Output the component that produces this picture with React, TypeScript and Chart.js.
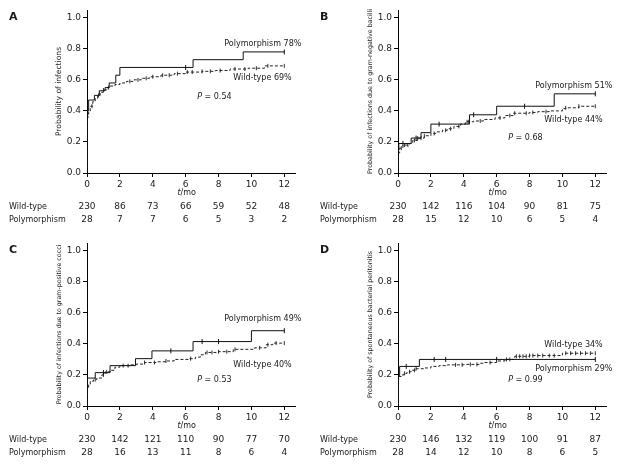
import React, { useEffect, useRef } from "react";
import { Chart, registerables } from "chart.js";
Chart.register(...registerables);

const FONT = "'DejaVu Sans', Verdana, sans-serif";
const INK = "#1a1a1a";

const timeTicks = [0, 2, 4, 6, 8, 10, 12];
const yTicks = [0, 0.2, 0.4, 0.6, 0.8, 1.0];
const rowLabels = ["Wild-type", "Polymorphism"];

// ---- Panel A: infections
const aPolyT = [0, 0, 0.1, 0.45, 0.75, 1.1, 1.35, 1.75, 2.0, 6.45, 9.5, 12];
const aPolyP = [0, 0.40, 0.47, 0.50, 0.53, 0.55, 0.58, 0.63, 0.68, 0.73, 0.78, 0.78];
const aWildT = [0, 0, 0.1, 0.2, 0.35, 0.5, 0.65, 0.8, 1.0, 1.2, 1.4, 1.7, 2.0, 2.4, 2.8, 3.3, 3.8, 4.5, 5.3, 6.0, 7.0, 7.8, 8.7, 9.8, 10.8, 12];
const aWildP = [0, 0.36, 0.40, 0.43, 0.46, 0.48, 0.50, 0.52, 0.535, 0.55, 0.56, 0.57, 0.58, 0.59, 0.60, 0.61, 0.62, 0.63, 0.64, 0.65, 0.655, 0.66, 0.67, 0.675, 0.69, 0.69];
const aPolyCensor = [6.0, 12];
const aWildCensor = [0.3, 0.7, 1.0, 1.3, 2.6, 3.1, 3.6, 4.0, 4.6, 5.0, 5.5, 6.1, 6.4, 7.0, 7.5, 8.1, 9.0, 9.6, 10.3, 11.0, 12];
const aWildRisk = [230, 86, 73, 66, 59, 52, 48];
const aPolyRisk = [28, 7, 7, 6, 5, 3, 2];

// ---- Panel B: gram-negative bacilli
const bPolyT = [0, 0, 0.05, 0.8, 1.4, 2.0, 4.35, 6.0, 9.5, 12];
const bPolyP = [0, 0.15, 0.19, 0.225, 0.26, 0.315, 0.375, 0.43, 0.51, 0.51];
const bWildT = [0, 0, 0.1, 0.3, 0.7, 0.9, 1.2, 1.6, 2.0, 2.3, 2.7, 3.0, 3.4, 3.8, 4.1, 4.6, 5.2, 5.9, 6.5, 7.0, 8.0, 8.5, 9.3, 10.0, 10.2, 11.0, 12];
const bWildP = [0, 0.13, 0.16, 0.18, 0.19, 0.21, 0.225, 0.24, 0.255, 0.265, 0.275, 0.285, 0.30, 0.315, 0.33, 0.335, 0.345, 0.355, 0.37, 0.385, 0.39, 0.395, 0.40, 0.415, 0.42, 0.43, 0.43];
const bPolyCensor = [0.3, 1.1, 2.5, 4.6, 7.7, 12];
const bWildCensor = [0.2, 0.4, 0.6, 1.0, 1.2, 1.4, 1.6, 2.2, 2.9, 3.2, 3.7, 4.2, 4.3, 5.0, 6.2, 6.8, 7.1, 7.8, 8.2, 9.0, 10.2, 11.0, 12];
const bWildRisk = [230, 142, 116, 104, 90, 81, 75];
const bPolyRisk = [28, 15, 12, 10, 6, 5, 4];

// ---- Panel C: gram-positive cocci
const cPolyT = [0, 0, 0.5, 1.4, 2.95, 3.95, 6.45, 10.0, 12];
const cPolyP = [0, 0.18, 0.215, 0.26, 0.305, 0.355, 0.415, 0.485, 0.485];
const cWildT = [0, 0, 0.1, 0.2, 0.4, 0.6, 0.9, 1.1, 1.4, 1.7, 2.0, 2.6, 3.0, 3.5, 4.2, 4.8, 5.3, 6.2, 6.6, 6.9, 7.2, 8.0, 8.9, 10.2, 10.9, 11.3, 12];
const cWildP = [0, 0.11, 0.14, 0.16, 0.17, 0.18, 0.20, 0.22, 0.23, 0.25, 0.26, 0.265, 0.27, 0.28, 0.285, 0.29, 0.30, 0.305, 0.315, 0.33, 0.345, 0.35, 0.365, 0.375, 0.395, 0.405, 0.405];
const cPolyCensor = [1.0, 5.1, 7.0, 8.0, 12];
const cWildCensor = [0.5, 1.0, 1.2, 2.2, 2.5, 3.5, 4.1, 4.8, 6.3, 7.3, 7.6, 8.0, 8.5, 9.0, 10.5, 11.0, 11.5, 12];
const cWildRisk = [230, 142, 121, 110, 90, 77, 70];
const cPolyRisk = [28, 16, 13, 11, 8, 6, 4];

// ---- Panel D: spontaneous bacterial peritonitis
const dPolyT = [0, 0, 0.1, 1.3, 12];
const dPolyP = [0, 0.19, 0.255, 0.30, 0.30];
const dWildT = [0, 0, 0.05, 0.2, 0.35, 0.55, 0.8, 1.1, 1.6, 2.0, 2.5, 3.0, 4.0, 5.0, 5.2, 6.0, 6.5, 7.1, 8.0, 10.0, 12];
const dWildP = [0, 0.17, 0.19, 0.20, 0.21, 0.22, 0.23, 0.24, 0.245, 0.255, 0.26, 0.265, 0.268, 0.275, 0.28, 0.29, 0.30, 0.32, 0.325, 0.34, 0.34];
const dPolyCensor = [0.5, 2.2, 2.9, 6.0, 12];
const dWildCensor = [0.4, 0.7, 1.0, 1.1, 3.5, 3.9, 4.4, 4.8, 5.6, 6.6, 6.8, 7.2, 7.4, 7.6, 7.8, 8.0, 8.2, 8.5, 8.8, 9.2, 9.5, 10.2, 10.5, 10.8, 11.1, 11.4, 11.7, 12];
const dWildRisk = [230, 146, 132, 119, 100, 91, 87];
const dPolyRisk = [28, 14, 12, 10, 8, 6, 5];

type Note = { text: string; t: number; p: number; italicP?: boolean };

type PanelDef = {
  letter: string;
  yTitle: string;
  yTitleSize: number;
  polyT: number[]; polyP: number[];
  wildT: number[]; wildP: number[];
  polyCensor: number[]; wildCensor: number[];
  wildRisk: number[]; polyRisk: number[];
  notes: Note[];
};

const panels: PanelDef[] = [
  {
    letter: "A", yTitle: "Probability of infections", yTitleSize: 7.6,
    polyT: aPolyT, polyP: aPolyP, wildT: aWildT, wildP: aWildP,
    polyCensor: aPolyCensor, wildCensor: aWildCensor, wildRisk: aWildRisk, polyRisk: aPolyRisk,
    notes: [
      { text: "Polymorphism 78%", t: 8.35, p: 0.83 },
      { text: "Wild-type 69%", t: 8.9, p: 0.61 },
      { text: " = 0.54", t: 6.7, p: 0.49, italicP: true },
    ],
  },
  {
    letter: "B", yTitle: "Probability of infections due to gram-negative bacilli", yTitleSize: 6.3,
    polyT: bPolyT, polyP: bPolyP, wildT: bWildT, wildP: bWildP,
    polyCensor: bPolyCensor, wildCensor: bWildCensor, wildRisk: bWildRisk, polyRisk: bPolyRisk,
    notes: [
      { text: "Polymorphism 51%", t: 8.35, p: 0.563 },
      { text: "Wild-type 44%", t: 8.9, p: 0.344 },
      { text: " = 0.68", t: 6.7, p: 0.228, italicP: true },
    ],
  },
  {
    letter: "C", yTitle: "Probability of infections due to gram-positive cocci", yTitleSize: 6.3,
    polyT: cPolyT, polyP: cPolyP, wildT: cWildT, wildP: cWildP,
    polyCensor: cPolyCensor, wildCensor: cWildCensor, wildRisk: cWildRisk, polyRisk: cPolyRisk,
    notes: [
      { text: "Polymorphism 49%", t: 8.35, p: 0.563 },
      { text: "Wild-type 40%", t: 8.9, p: 0.266 },
      { text: " = 0.53", t: 6.7, p: 0.17, italicP: true },
    ],
  },
  {
    letter: "D", yTitle: "Probability of spontaneous bacterial peritonitis", yTitleSize: 6.3,
    polyT: dPolyT, polyP: dPolyP, wildT: dWildT, wildP: dWildP,
    polyCensor: dPolyCensor, wildCensor: dWildCensor, wildRisk: dWildRisk, polyRisk: dPolyRisk,
    notes: [
      { text: "Wild-type 34%", t: 8.9, p: 0.395 },
      { text: "Polymorphism 29%", t: 8.35, p: 0.24 },
      { text: " = 0.99", t: 6.7, p: 0.17, italicP: true },
    ],
  },
];

function stepValue(ts: number[], ps: number[], t: number) {
  let v = ps[0];
  for (let i = 0; i < ts.length; i++) if (ts[i] <= t + 1e-9) v = ps[i];
  return v;
}

function Panel({ def, left, top }: { def: PanelDef; left: number; top: number }) {
  const ref = useRef<HTMLCanvasElement | null>(null);
  useEffect(() => {
    if (!ref.current) return;
    const poly = def.polyT.map((t, i) => ({ x: t, y: def.polyP[i] }));
    const wild = def.wildT.map((t, i) => ({ x: t, y: def.wildP[i] }));
    const polyC = def.polyCensor.map((t) => ({ x: t, y: stepValue(def.polyT, def.polyP, t) }));
    const wildC = def.wildCensor.map((t) => ({ x: t, y: stepValue(def.wildT, def.wildP, t) }));

    const textPlugin = {
      id: "kmText",
      afterDraw(chart: any) {
        const ctx = chart.ctx as CanvasRenderingContext2D;
        const xs = chart.scales.x;
        const ys = chart.scales.y;
        ctx.save();
        ctx.fillStyle = INK;
        ctx.textBaseline = "middle";
        ctx.font = `bold 11px ${FONT}`;
        ctx.textAlign = "left";
        ctx.fillText(def.letter, 9, 17);
        for (const n of def.notes) {
          const x = xs.getPixelForValue(n.t);
          const y = ys.getPixelForValue(n.p);
          if (n.italicP) {
            ctx.font = `italic 8px ${FONT}`;
            ctx.fillText("P", x, y);
            const w = ctx.measureText("P").width;
            ctx.font = `8px ${FONT}`;
            ctx.fillText(n.text, x + w, y);
          } else {
            ctx.font = `8px ${FONT}`;
            ctx.fillText(n.text, x, y);
          }
        }
        ctx.font = `italic 8px ${FONT}`;
        const wt = ctx.measureText("t").width;
        ctx.font = `8px ${FONT}`;
        const wm = ctx.measureText("/mo").width;
        const cx = (xs.getPixelForValue(0) + xs.getPixelForValue(12)) / 2 + 1;
        const sx = cx - (wt + wm) / 2;
        ctx.font = `italic 8px ${FONT}`;
        ctx.fillText("t", sx, 193);
        ctx.font = `8px ${FONT}`;
        ctx.fillText("/mo", sx + wt, 193);
        const rows = [def.wildRisk, def.polyRisk];
        const rowY = [207, 220];
        rows.forEach((vals, r) => {
          ctx.font = `8px ${FONT}`;
          ctx.textAlign = "left";
          ctx.fillText(rowLabels[r], 9, rowY[r]);
          ctx.font = `9px ${FONT}`;
          ctx.textAlign = "center";
          vals.forEach((v, i) => {
            ctx.fillText(String(v), xs.getPixelForValue(timeTicks[i]), rowY[r]);
          });
        });
        ctx.restore();
      },
    };

    const tickFont = { family: FONT, size: 9 };
    const chart = new Chart(ref.current, {
      type: "line",
      data: {
        datasets: [
          { label: "Polymorphism", data: poly, borderColor: "#111", borderWidth: 1, stepped: "before", pointRadius: 0, fill: false },
          { label: "Wild-type", data: wild, borderColor: "#222", borderWidth: 1, borderDash: [3, 2], stepped: "before", pointRadius: 0, fill: false },
          { label: "Polymorphism censored", data: polyC, showLine: false, pointStyle: "line", pointRotation: 90, pointRadius: 2.5, pointBorderWidth: 1, pointBorderColor: "#111", pointBackgroundColor: "#111" },
          { label: "Wild-type censored", data: wildC, showLine: false, pointStyle: "line", pointRotation: 90, pointRadius: 2, pointBorderWidth: 1, pointBorderColor: "#333", pointBackgroundColor: "#333" },
        ] as any,
      },
      options: {
        responsive: false,
        animation: false,
        devicePixelRatio: 1,
        layout: { padding: { left: 0, top: 10, right: 16, bottom: 0 } },
        plugins: { legend: { display: false }, tooltip: { enabled: false } },
        elements: { line: { tension: 0 } },
        scales: {
          x: {
            type: "linear",
            min: 0,
            max: 12.65,
            afterFit: (s: any) => { s.height = 60; },
            afterBuildTicks: (s: any) => { s.ticks = timeTicks.map((v) => ({ value: v })); },
            ticks: { font: tickFont, color: INK, padding: 2, maxRotation: 0, autoSkip: false, callback: (v: any) => String(v) },
            grid: { display: true, drawOnChartArea: false, drawTicks: true, tickLength: 4, color: "#000" },
            border: { display: true, color: "#000", width: 1 },
          },
          y: {
            type: "linear",
            min: 0,
            max: 1.05,
            afterFit: (s: any) => { s.width = 87; },
            afterBuildTicks: (s: any) => { s.ticks = yTicks.map((v) => ({ value: v })); },
            ticks: { font: tickFont, color: INK, padding: 2, callback: (v: any) => Number(v).toFixed(1) },
            grid: { display: true, drawOnChartArea: false, drawTicks: true, tickLength: 4, color: "#000" },
            border: { display: true, color: "#000", width: 1 },
            title: {
              display: true,
              text: def.yTitle,
              color: "#222",
              font: { family: FONT, size: def.yTitleSize },
              padding: { top: 59 - (def.yTitleSize * 1.2) / 2, bottom: 0 },
            },
          },
        },
      } as any,
      plugins: [textPlugin],
    });
    return () => chart.destroy();
  }, [def]);
  return (
    <canvas
      ref={ref}
      width={311}
      height={233}
      style={{ position: "absolute", left, top, width: 311, height: 233 }}
    />
  );
}

export default function App() {
  return (
    <div style={{ position: "absolute", left: 0, top: 0, width: 622, height: 466, background: "#fff", overflow: "hidden" }}>
      <Panel def={panels[0]} left={0} top={0} />
      <Panel def={panels[1]} left={311} top={0} />
      <Panel def={panels[2]} left={0} top={233} />
      <Panel def={panels[3]} left={311} top={233} />
    </div>
  );
}
